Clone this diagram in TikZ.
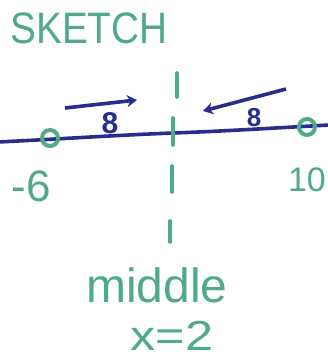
\documentclass[tikz,border=0pt]{standalone}
\usepackage{fontspec}
\setmainfont{Liberation Sans}
\usetikzlibrary{arrows.meta}
\definecolor{mgreen}{RGB}{78,170,135}
\definecolor{mblue}{RGB}{40,45,140}
\tikzset{
  gtext/.style={text=mgreen, inner sep=0pt, font=\fontsize{#1}{#1}\selectfont},
  btext/.style={text=mblue, inner sep=0pt, font=\bfseries\fontsize{#1}{#1}\selectfont},
  gtick/.style={draw=mgreen, line width=3.6pt, line cap=round},
  bline/.style={draw=mblue, line width=3.6pt, line cap=round},
  dot/.style={circle, draw=mgreen, line width=4pt, minimum size=16pt, inner sep=0pt},
  barrow/.style={draw=mblue, line width=3.6pt, -{Stealth[length=10pt,width=12pt]}}
}
\begin{document}
\begin{tikzpicture}[x=1pt,y=-1pt]
\useasboundingbox (0,0) rectangle (328,362);
% title
\node[gtext=44pt, xscale=0.88] (title) at (89,28) {SKETCH};
% number line
\coordinate (L) at (-2,142);
\coordinate (M) at (173,133);
\coordinate (R) at (330,125);
\draw[bline] (L) .. controls (60,139) and (120,135) .. (M) .. controls (230,131) and (290,127) .. (R);
% endpoint circles
\node[dot] (p1) at (50,138) {};
\node[dot] (p2) at (307,127) {};
% ticks at middle
\coordinate (t1a) at (177,73); \coordinate (t1b) at (177,97);
\coordinate (t2a) at (173,118); \coordinate (t2b) at (173,145);
\coordinate (t3a) at (172,166); \coordinate (t3b) at (172,192);
\coordinate (t4a) at (170,221); \coordinate (t4b) at (170,242);
\draw[gtick] (t1a) -- (t1b);
\draw[gtick] (t2a) -- (t2b);
\draw[gtick] (t3a) -- (t3b);
\draw[gtick] (t4a) -- (t4b);
% arrows with distances
\coordinate (a1s) at (65,108); \coordinate (a1e) at (137,100);
\draw[barrow] (a1s) -- (a1e);
\node[btext=30pt] (d1) at (110,123) {8};
\coordinate (a2s) at (286,89); \coordinate (a2e) at (203,111);
\draw[barrow] (a2s) -- (a2e);
\node[btext=26pt] (d2) at (254,118) {8};
% labels
\node[gtext=44pt] (lm6) at (31,186) {-6};
\node[gtext=34pt] (l10) at (307,180) {10};
\node[gtext=48pt] (mid) at (157,285) {middle};
\node[gtext=42pt, xscale=1.2] (x2) at (172,336) {x=2};
\end{tikzpicture}
\end{document}
